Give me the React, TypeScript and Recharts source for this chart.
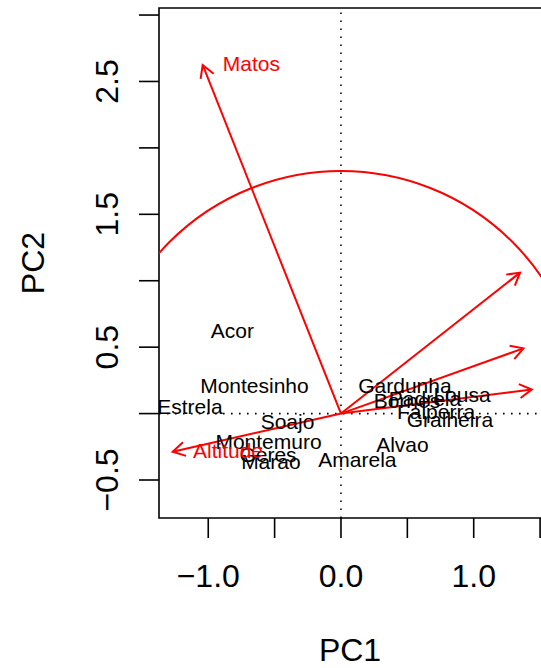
import React from "react"
import { ComposedChart, Scatter, XAxis, YAxis, ReferenceLine, ReferenceArea } from "recharts"

// site scores (PC1, PC2)
const sites = [
  "Acor", "Montesinho", "Estrela", "Soajo", "Montemuro", "Geres", "Marao", "Amarela",
  "Alvao", "Gardunha", "Bornes", "Padrela", "Lousa", "Falperra", "Gralheira",
]
const siteX = [-0.818, -0.652, -1.138, -0.403, -0.546, -0.55, -0.528, 0.124, 0.463, 0.482, 0.497, 0.633, 0.912, 0.716, 0.821]
const siteY = [0.629, 0.208, 0.05, -0.061, -0.211, -0.305, -0.364, -0.342, -0.236, 0.215, 0.095, 0.117, 0.14, 0.012, -0.048]

// variable loadings (arrow tips)
const arrowX = [-1.042, -1.268, 1.349, 1.374, 1.437]
const arrowY = [2.624, -0.287, 1.061, 0.491, 0.181]

// variable labels that fall inside the picture
const varLabels = ["Matos", "Altitude"]
const varLabelX = [-0.891, -1.115]
const varLabelY = [2.637, -0.281]

const circleRadius = 1.826

const xDomain = [-1.371, 1.522]
const yDomain = [-0.786, 3.053]
const xTicks = [-1, -0.5, 0, 0.5, 1, 1.5]
const yTicks = [-0.5, 0, 0.5, 1, 1.5, 2, 2.5, 3]
const xLabeled = [-1, 0, 1]
const yLabeled = [-0.5, 0.5, 1.5, 2.5]

const FONT = "'Liberation Sans', Arial, Helvetica, sans-serif"
const RED = "#ff0000"
const AXIS_FS = 32

const siteData = sites.map((name, i) => ({ name, x: siteX[i], y: siteY[i] }))
const varData = varLabels.map((name, i) => ({ name, x: varLabelX[i], y: varLabelY[i] }))

const fmt = (v: number) => v.toFixed(1).replace("-", "\u2212")

function XTick({ x, y, payload }: any) {
  if (!xLabeled.includes(payload.value)) return <g />
  return (
    <text x={x} y={y + 47} textAnchor="middle" fontSize={AXIS_FS} fontFamily={FONT} fill="#000">
      {fmt(payload.value)}
    </text>
  )
}

function YTick({ x, y, payload }: any) {
  if (!yLabeled.includes(payload.value)) return <g />
  const bx = x - 19
  return (
    <text x={bx} y={y} transform={`rotate(-90 ${bx} ${y})`} textAnchor="middle" fontSize={AXIS_FS} fontFamily={FONT} fill="#000">
      {fmt(payload.value)}
    </text>
  )
}

function Arrow(props: any) {
  const { x1, y1, x2, y2 } = props
  const a = Math.atan2(y2 - y1, x2 - x1)
  const h = 14
  const s = Math.PI / 6
  const b1 = `${x2 - h * Math.cos(a - s)},${y2 - h * Math.sin(a - s)}`
  const b2 = `${x2 - h * Math.cos(a + s)},${y2 - h * Math.sin(a + s)}`
  return (
    <g>
      <line x1={x1} y1={y1} x2={x2} y2={y2} stroke={RED} strokeWidth={2} />
      <path d={`M${b1} L${x2},${y2} L${b2}`} fill="none" stroke={RED} strokeWidth={2} />
    </g>
  )
}

// circle centred on the first point, radius = distance to the second one
function Circle(props: any) {
  const { x1, y1, x2, y2, clipPath } = props
  const r = Math.hypot(x2 - x1, y2 - y1)
  return <circle cx={x1} cy={y1} r={r} fill="none" stroke={RED} strokeWidth={2} clipPath={clipPath} />
}

export default function App() {
  return (
    <div style={{ position: "absolute", left: 0, top: 0, width: 541, height: 668, overflow: "hidden", background: "#fff", fontFamily: FONT }}>
      <ComposedChart width={560} height={668} margin={{ top: 8, right: 17, bottom: 0, left: 0 }}>
        <XAxis
          type="number"
          dataKey="x"
          domain={xDomain}
          ticks={xTicks}
          allowDataOverflow
          axisLine={false}
          tickSize={20}
          tickLine={{ stroke: "#000", strokeWidth: 1.6 }}
          tick={<XTick />}
          height={150}
          label={({ viewBox }: any) => (
            <text x={(159 + 541) / 2} y={viewBox.y + 143} textAnchor="middle" fontSize={AXIS_FS} fontFamily={FONT} fill="#000">
              PC1
            </text>
          )}
        />
        <YAxis
          type="number"
          dataKey="y"
          domain={yDomain}
          ticks={yTicks}
          allowDataOverflow
          axisLine={false}
          tickSize={20}
          tickLine={{ stroke: "#000", strokeWidth: 1.6 }}
          tick={<YTick />}
          width={159}
          label={({ viewBox }: any) => {
            const cx = viewBox.x + 44
            const cy = viewBox.y + viewBox.height / 2
            return (
              <text x={cx} y={cy} transform={`rotate(-90 ${cx} ${cy})`} textAnchor="middle" fontSize={AXIS_FS} fontFamily={FONT} fill="#000">
                PC2
              </text>
            )
          }}
        />
        <ReferenceArea x1={xDomain[0]} x2={xDomain[1]} y1={yDomain[0]} y2={yDomain[1]} fill="none" stroke="#000" strokeWidth={1.6} fillOpacity={0} />
        <ReferenceLine x={0} stroke="#000" strokeWidth={1.6} strokeDasharray="1.6 6.4" />
        <ReferenceLine y={0} stroke="#000" strokeWidth={1.6} strokeDasharray="1.6 6.4" />
        <Scatter
          data={siteData}
          isAnimationActive={false}
          shape={(p: any) => (
            <text x={p.cx} y={p.cy} textAnchor="middle" dominantBaseline="central" fontSize={21} fontFamily={FONT} fill="#000">
              {p.payload.name}
            </text>
          )}
        />
        <ReferenceLine
          segment={[{ x: 0, y: 0 }, { x: 0, y: circleRadius }]}
          ifOverflow="hidden"
          shape={<Circle />}
        />
        {arrowX.map((ax, i) => (
          <ReferenceLine key={i} segment={[{ x: 0, y: 0 }, { x: ax, y: arrowY[i] }]} ifOverflow="visible" shape={<Arrow />} />
        ))}
        <Scatter
          data={varData}
          isAnimationActive={false}
          shape={(p: any) => (
            <text x={p.cx} y={p.cy} textAnchor="start" dominantBaseline="central" fontSize={21} fontFamily={FONT} fill={RED}>
              {p.payload.name}
            </text>
          )}
        />
      </ComposedChart>
    </div>
  )
}
